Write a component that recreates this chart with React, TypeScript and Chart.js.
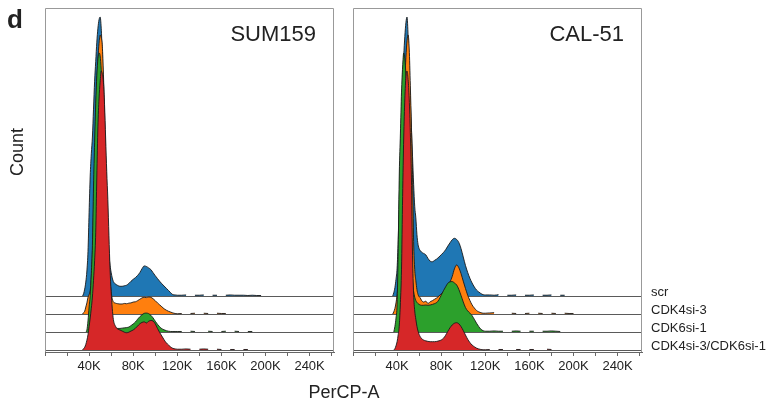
import React, { useEffect, useRef } from "react";
import { Chart, registerables } from "chart.js";

Chart.register(...registerables);

const _ = null;
type Val = number | null;

// PerCP-A channel bins (in thousands)
const percpBinsK: number[] = [
  30, 32, 34, 35, 36, 37, 38, 39,
  40, 41, 42, 43, 44, 45, 46, 47, 48, 49,
  50, 51, 52, 53, 54, 55, 56, 57, 58, 59,
  60, 61, 62, 64, 66, 68, 70, 72, 74, 76,
  78, 80, 82, 84, 86, 88, 90, 92, 94, 96,
  98, 100, 102, 104, 106, 108, 110, 112, 114, 116,
  118, 120, 124, 128, 132, 136, 140, 144, 148, 152,
  156, 160, 164, 168, 172, 176, 180, 184, 188, 192, 196, 200,
];

// Counts as % of mode, SUM159
const sum159Scr: Val[] = [
  _, _, 0, 0.8, 2.5, 5, 9, 16,
  30, 43, 51, 57, 67, 77, 84, 91, 96, 99,
  100, 96, 86, 72, 56, 42, 30, 21, 15, 11,
  8.5, 6.5, 5.2, 4.3, 3.8, 3.5, 3.5, 3.7, 3.9, 4.5,
  5.3, 6, 6.6, 7.4, 8.4, 9.8, 10.8, 10.6, 10.1, 9.5,
  8.4, 7.3, 6.3, 5.3, 4.4, 3.6, 2.8, 2.0, 1.2, 0.5,
  0.4, 0.3, 0.3, 0.4, _, 0.3, 0.3, 0.4, _, 0.3,
  0.3, _, 0.3, 0.4, 0.3, 0.3, 0.3, 0.2, 0.3, 0.2, 0.2, _,
];
const sum159Cdk4: Val[] = [
  _, _, 0, 0.5, 1, 2.5, 4, 6,
  7, 8.5, 13, 22, 38, 55, 70, 82, 91, 97,
  100, 99, 96, 86, 72, 56, 41, 29, 19, 12,
  8, 5.5, 4.4, 3.9, 3.7, 3.6, 3.6, 3.8, 3.7, 3.9,
  4.0, 4.3, 4.4, 4.8, 5.3, 5.8, 6.0, 5.9, 6.1, 6.0,
  5.5, 4.8, 4.0, 3.3, 2.6, 1.9, 1.4, 1.0, 0.7, 0.4,
  0.2, 0.1, 0.2, _, 0.2, 0.3, _, 0.3, 0.2, _,
  0.3, 0.2, 0.2, _, _, _, _, _, _, _, _, _,
];
const sum159Cdk6: Val[] = [
  _, _, _, _, _, 0, 0.7, 4,
  9, 13, 21, 31, 52, 68, 82, 92, 98, 100,
  99, 94, 85, 72, 58, 44, 32, 22, 14, 8,
  4.5, 2.5, 1.8, 1.5, 1.3, 1.3, 1.4, 1.5, 1.6, 1.8,
  2.3, 2.9, 3.6, 4.6, 5.5, 6.2, 6.7, 6.8, 6.6, 6.0,
  5.1, 3.9, 2.8, 1.9, 1.2, 0.8, 0.5, 0.3, 0.2, 0.2,
  0.2, 0.2, 0.2, _, 0.3, 0.2, _, _, 0.3, 0.2,
  _, 0.2, 0.3, _, 0.3, 0.2, _, 0.2, 0.2, _, _, _,
];
const sum159Cdk4Cdk6: Val[] = [
  _, _, 0, 0.5, 1, 2, 3.5, 5.5,
  8.5, 11.5, 15, 19, 25, 32, 42, 62, 80, 90,
  96, 100, 99, 96, 88, 76, 64, 54, 41, 29,
  21, 15, 11, 8.5, 7.5, 7.2, 6.8, 6.4, 6.2, 6.4,
  6.8, 7.2, 7.8, 8.6, 9.4, 9.9, 10.1, 9.7, 10.3, 10.6,
  10.4, 9.4, 7.8, 6.3, 5.0, 3.7, 2.6, 1.8, 1.1, 0.6,
  0.4, 0.3, 0.3, 0.4, 0.3, _, 0.3, 0.4, 0.3, _,
  0.3, 0.2, _, 0.2, 0.2, _, 0.2, 0.2, _, _, _, _,
];

// Counts as % of mode, CAL-51
const cal51Scr: Val[] = [
  _, _, _, _, 0, 1.2, 3, 6,
  10, 20, 35, 50, 65, 77, 86, 93, 98, 100,
  93, 80, 70, 60, 50, 40, 32, 28, 22, 18.5,
  17, 16.3, 15.8, 15.3, 14.8, 13.5, 12.5, 12.3, 12.8, 13.3,
  14, 14.8, 15.6, 16.6, 17.9, 19.1, 20.2, 20.7, 20.3, 19.2,
  17, 14, 11, 8.5, 6.4, 4.7, 3.3, 2.2, 1.5, 0.9,
  0.5, 0.4, 0.4, 0.3, 0.5, _, 0.3, 0.3, 0.4, _,
  0.3, 0.3, 0.4, _, 0.3, 0.3, 0.4, _, 0.3, 0.3, _, _,
];
const cal51Cdk4: Val[] = [
  _, _, _, _, 0, 0.8, 2, 4,
  7, 12, 20, 32, 46, 60, 73, 84, 92, 98,
  100, 95, 82, 67, 50, 26, 16, 12, 8.8, 7,
  6.2, 5.8, 5.0, 4.3, 4.6, 3.8, 4.4, 4.8, 5.3, 5.8,
  6.5, 7.2, 8.0, 9.0, 10.2, 11.5, 13.5, 16.2, 17.6, 16.6,
  14.5, 11.8, 9.2, 6.8, 4.9, 3.3, 2.2, 1.3, 0.8, 0.5,
  0.3, 0.3, 0.4, 0.5, _, 0.2, _, 0.3, 0.2, _,
  0.2, 0.3, _, 0.3, 0.2, _, 0.3, 0.2, _, 0.3, 0.2, 0.2,
];
const cal51Cdk6: Val[] = [
  _, _, _, _, _, 0, 2, 5,
  10, 30, 57, 71, 86, 95, 100, 98, 92, 82,
  66, 50, 35, 24, 18, 14.5, 12.5, 11.3, 10.6, 10.2,
  9.9, 9.7, 9.6, 9.6, 9.7, 9.6, 9.7, 9.9, 10.2, 10.6,
  11.6, 13.2, 14.8, 16.2, 17.5, 18.0, 18.1, 17.6, 16.9, 15.3,
  13.1, 10.8, 8.8, 7.6, 6.8, 5.9, 4.6, 3.2, 2.0, 1.0,
  0.5, 0.3, 0.3, 0.4, 0.3, 0.3, _, 0.3, 0.4, 0.3,
  _, 0.3, 0.3, _, 0.3, 0.3, 0.4, 0.3, 0.2, _, _, _,
];
const cal51Cdk4Cdk6: Val[] = [
  _, _, _, _, _, 0, 0.5, 1.5,
  3, 5.5, 9, 17, 29, 55, 76, 90, 98, 100,
  97, 90, 78, 62, 34, 20, 14, 11, 8.5, 6.8,
  5.6, 4.8, 4.2, 3.6, 3.3, 3.1, 3.0, 3.0, 3.0, 3.1,
  3.3, 3.6, 4.2, 5.3, 6.7, 8.0, 9.0, 9.6, 9.8, 9.4,
  8.4, 7.0, 5.4, 3.9, 2.7, 1.8, 1.2, 0.7, 0.4, 0.2,
  0.1, 0.1, 0.2, _, 0.2, 0.2, _, _, 0.2, 0.2,
  _, 0.2, 0.2, _, _, 0.3, 0.2, _, _, _, _, _,
];

const layerLabels = ["scr", "CDK4si-3", "CDK6si-1", "CDK4si-3/CDK6si-1"];
const layerColors = ["#1f77b4", "#ff7f0e", "#2ca02c", "#d62728"];
const xTickLabelsK = [40, 80, 120, 160, 200, 240];

const X_MAX_K = 262.144;
const X_TICK_STEP_K = 20;
const Y_MAX = 123.3;
const LAYER_STEP = 6.45;
const BOTTOM_BASE = 0.7;

const FONT = '"Liberation Sans", Arial, Helvetica, sans-serif';
const TEXT = "#222";

const layerBase = (i: number) => BOTTOM_BASE + (layerLabels.length - 1 - i) * LAYER_STEP;

type PanelProps = {
  name: string;
  layers: Val[][];
  left: number;
  width: number;
  padLeft: number;
  padRight: number;
  showLayerLabels: boolean;
};

function HistogramPanel({ name, layers, left, width, padLeft, padRight, showLayerLabels }: PanelProps) {
  const ref = useRef<HTMLCanvasElement | null>(null);

  useEffect(() => {
    const canvas = ref.current;
    if (!canvas) return;

    const datasets = layers.map((vals, i) => {
      const base = layerBase(i);
      return {
        label: layerLabels[i],
        data: percpBinsK.map((x, j) => ({ x, y: vals[j] == null ? null : (vals[j] as number) + base })),
        fill: { value: base },
        backgroundColor: layerColors[i],
        borderColor: "rgba(25,25,25,0.9)",
        borderWidth: 1,
        pointRadius: 0,
        tension: 0.2,
        cubicInterpolationMode: "monotone" as const,
        spanGaps: false,
        order: layerLabels.length - 1 - i,
      };
    });

    const decor = {
      id: "panelDecor",
      beforeDatasetsDraw(chart: any) {
        const { ctx, chartArea: a, scales } = chart;
        ctx.save();
        ctx.strokeStyle = "#5a5a5a";
        ctx.lineWidth = 1;
        layers.forEach((_v, i) => {
          const y = Math.round(scales.y.getPixelForValue(layerBase(i))) + 0.5;
          ctx.beginPath();
          ctx.moveTo(a.left, y);
          ctx.lineTo(a.right, y);
          ctx.stroke();
        });
        ctx.restore();
      },
      afterDraw(chart: any) {
        const { ctx, chartArea: a, scales } = chart;
        ctx.save();
        ctx.strokeStyle = "#999";
        ctx.lineWidth = 1;
        ctx.beginPath();
        ctx.moveTo(a.left + 0.5, a.bottom);
        ctx.lineTo(a.left + 0.5, a.top + 0.5);
        ctx.lineTo(a.right - 0.5, a.top + 0.5);
        ctx.lineTo(a.right - 0.5, a.bottom);
        ctx.stroke();

        ctx.fillStyle = TEXT;
        ctx.font = `22px ${FONT}`;
        ctx.textAlign = "right";
        ctx.textBaseline = "alphabetic";
        ctx.fillText(name, a.right - 18, a.top + 32.5);

        if (showLayerLabels) {
          ctx.font = `13px ${FONT}`;
          ctx.textAlign = "left";
          layerLabels.forEach((label, i) => {
            const y = scales.y.getPixelForValue(layerBase(i));
            ctx.fillText(label, a.right + 9, y);
          });
        }
        ctx.restore();
      },
    };

    const chart = new Chart(canvas, {
      type: "line",
      data: { datasets: datasets as any },
      options: {
        responsive: false,
        animation: false,
        devicePixelRatio: 1,
        layout: { padding: { left: padLeft, right: padRight, top: 8, bottom: 0 } },
        plugins: { legend: { display: false }, tooltip: { enabled: false } },
        scales: {
          x: {
            type: "linear",
            min: 0,
            max: X_MAX_K,
            afterFit: (scale: any) => {
              scale.height = 52;
            },
            border: { color: "#666", width: 1 },
            grid: { drawOnChartArea: false, drawTicks: true, tickLength: 4, color: "#666" },
            ticks: {
              stepSize: X_TICK_STEP_K,
              autoSkip: false,
              includeBounds: false,
              maxRotation: 0,
              padding: 3,
              color: TEXT,
              font: { family: FONT, size: 13 },
              callback: (v: any) => (xTickLabelsK.includes(Number(v)) ? `${v}K` : ""),
            },
          },
          y: { display: false, min: 0, max: Y_MAX },
        },
      },
      plugins: [decor],
    });
    return () => chart.destroy();
  }, []);

  return (
    <canvas
      ref={ref}
      width={width}
      height={404}
      style={{ position: "absolute", left, top: 0, width, height: 404, display: "block" }}
    />
  );
}

export default function App() {
  return (
    <div
      style={{
        position: "fixed",
        left: 0,
        top: 0,
        width: 768,
        height: 404,
        background: "#fff",
        fontFamily: FONT,
        color: TEXT,
        overflow: "hidden",
      }}
    >
      <HistogramPanel
        name="SUM159"
        layers={[sum159Scr, sum159Cdk4, sum159Cdk6, sum159Cdk4Cdk6]}
        left={0}
        width={340}
        padLeft={45}
        padRight={6}
        showLayerLabels={false}
      />
      <HistogramPanel
        name="CAL-51"
        layers={[cal51Scr, cal51Cdk4, cal51Cdk6, cal51Cdk4Cdk6]}
        left={344}
        width={424}
        padLeft={9}
        padRight={126}
        showLayerLabels={true}
      />
      <div style={{ position: "absolute", left: 7, top: 6, fontSize: 26, lineHeight: "26px", fontWeight: "bold" }}>d</div>
      <div
        style={{
          position: "absolute",
          left: 17,
          top: 152,
          fontSize: 18,
          lineHeight: "18px",
          whiteSpace: "nowrap",
          transform: "translate(-50%, -50%) rotate(-90deg)",
        }}
      >
        Count
      </div>
      <div
        style={{
          position: "absolute",
          left: 344,
          top: 383,
          fontSize: 18,
          lineHeight: "18px",
          whiteSpace: "nowrap",
          transform: "translateX(-50%)",
        }}
      >
        PerCP-A
      </div>
    </div>
  );
}
